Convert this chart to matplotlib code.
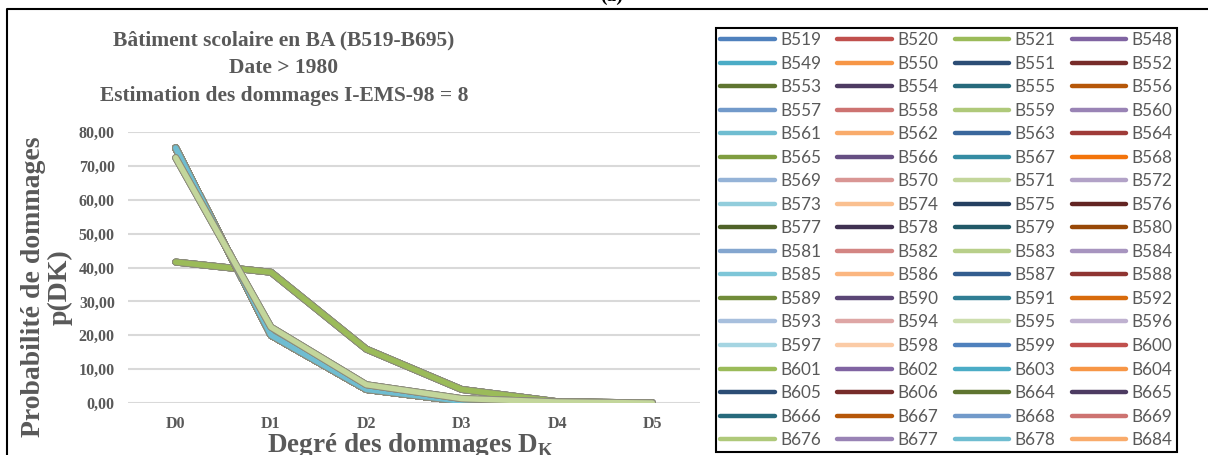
import matplotlib
matplotlib.use('Agg')
import matplotlib.pyplot as plt
import matplotlib.patheffects as pe
from matplotlib.lines import Line2D

# Data
degrees = ['D0', 'D1', 'D2', 'D3', 'D4', 'D5']
buildings = ['B519', 'B520', 'B521', 'B548', 'B549', 'B550', 'B551', 'B552',
             'B553', 'B554', 'B555', 'B556', 'B557', 'B558', 'B559', 'B560',
             'B561', 'B562', 'B563', 'B564', 'B565', 'B566', 'B567', 'B568',
             'B569', 'B570', 'B571', 'B572', 'B573', 'B574', 'B575', 'B576',
             'B577', 'B578', 'B579', 'B580', 'B581', 'B582', 'B583', 'B584',
             'B585', 'B586', 'B587', 'B588', 'B589', 'B590', 'B591', 'B592',
             'B593', 'B594', 'B595', 'B596', 'B597', 'B598', 'B599', 'B600',
             'B601', 'B602', 'B603', 'B604', 'B605', 'B606', 'B664', 'B665',
             'B666', 'B667', 'B668', 'B669', 'B676', 'B677', 'B678', 'B684']

# three damage distributions (%) shared by the buildings
p_type1 = [75.3, 20.0, 4.0, 0.5, 0.1, 0.0]
p_type2 = [72.4, 22.4, 5.4, 1.3, 0.3, 0.0]
p_type3 = [41.6, 38.6, 15.9, 4.0, 0.4, 0.0]
type2_buildings = ['B559', 'B571', 'B583', 'B595']
type3_buildings = ['B521', 'B553', 'B565', 'B577', 'B589', 'B601', 'B664']
# series that end up drawn on top of each group
front_buildings = ['B678', 'B571', 'B601']

# Excel-like palette, repeats every 54 series
palette = ['#4f81bd', '#c0504d', '#9bbb59', '#8064a2', '#4bacc6', '#f79646',
           '#2c4d75', '#772c2a', '#5f7530', '#4d3b62', '#276a7c', '#b65708',
           '#729aca', '#cd7371', '#afc97a', '#9983b5', '#6fbdd1', '#f9ab6b',
           '#3a679c', '#9f3b38', '#7f9d40', '#664f83', '#358ca3', '#f3740b',
           '#95b3d7', '#d99694', '#c3d69b', '#b2a2c7', '#92cddc', '#fac090',
           '#254061', '#632523', '#4f6228', '#403152', '#215968', '#984807',
           '#84a6cf', '#d38583', '#b8cf8a', '#a794bf', '#7ec6d8', '#fbb680',
           '#335d8f', '#8f3532', '#718c39', '#5b4676', '#307e94', '#d86b0c',
           '#a7bfdd', '#dea6a5', '#cddeae', '#bfb1d0', '#a5d5e2', '#fbcba6']

grey = '#595959'
serif = 'Liberation Serif'
plt.rcParams['mathtext.fontset'] = 'custom'
plt.rcParams['mathtext.rm'] = serif
plt.rcParams['mathtext.bf'] = serif + ':bold'

fig = plt.figure(figsize=(12.08, 4.55), dpi=100)
ax = fig.add_axes([128 / 1208, 1 - 403 / 455, 572 / 1208, 271 / 455])

x = list(range(len(degrees)))
handles = {}
for i, b in enumerate(buildings):
    col = palette[i % len(palette)]
    if b in type3_buildings:
        y, z = p_type3, 10
    elif b in type2_buildings:
        y, z = p_type2, 30
    else:
        y, z = p_type1, 20
    if b in front_buildings:
        z += 5
    ax.plot(x, y, color=col, lw=3.9, zorder=z, solid_capstyle='round',
            solid_joinstyle='round',
            path_effects=[pe.Stroke(linewidth=5.0, foreground='#8c8c7c'), pe.Normal()])
    handles[b] = Line2D([], [], color=col, lw=3.2, solid_capstyle='round')

ax.set_xlim(-0.5, 5.5)
ax.set_ylim(0, 80)
ax.set_yticks(range(0, 81, 10))
ax.set_yticklabels([f'{v:.2f}'.replace('.', ',') for v in range(0, 81, 10)])
ax.set_xticks(x)
ax.set_xticklabels(degrees)
ax.grid(axis='y', color='#d9d9d9', lw=1.5)
ax.set_axisbelow(True)
for s in ax.spines.values():
    s.set_visible(False)
ax.tick_params(length=0, labelsize=11.5, labelcolor=grey)
ax.tick_params(axis='y', pad=9.5)
ax.tick_params(axis='x', pad=9)
for lab in ax.get_xticklabels() + ax.get_yticklabels():
    lab.set_fontfamily(serif)
    lab.set_fontweight('bold')

fig.text(284 / 1208, 1 - 68 / 455,
         'Bâtiment scolaire en BA (B519-B695)\nDate > 1980\nEstimation des dommages I-EMS-98 = 8',
         ha='center', va='center', fontsize=15.5, fontweight='bold', color=grey,
         family=serif, linespacing=1.5)
fig.text(47 / 1208, 1 - 287 / 455, 'Probabilité de dommages\np(DK)',
         rotation=90, ha='center', va='center', fontsize=20, fontweight='bold',
         color=grey, family=serif, linespacing=1.1)
fig.text(411 / 1208, 1 - 452 / 455, r'Degré des dommages D$_\mathbf{K}$',
         ha='center', va='baseline', fontsize=19.5, fontweight='bold', color=grey,
         family=serif)
fig.text(612 / 1208, 1 - 5 / 455, '(a)', ha='center', va='bottom', fontsize=14,
         fontweight='bold', color='black', family=serif)

# outer frame (top and left)
fig.add_artist(Line2D([7 / 1208, 7 / 1208, 1.0], [0, 1 - 9 / 455, 1 - 9 / 455],
                      color='black', lw=1.5, transform=fig.transFigure))

# legend reads row by row, matplotlib fills column by column
ncol, nrow = 4, len(buildings) // 4
order = [buildings[r * ncol + c] for c in range(ncol) for r in range(nrow)]
leg = fig.legend([handles[b] for b in order], order, ncol=ncol, loc='upper left',
                 bbox_to_anchor=(716 / 1208, 1 - 28 / 455), borderaxespad=0,
                 prop={'family': 'Lato', 'size': 12.3}, labelcolor=grey,
                 handlelength=3.2, handletextpad=0.3, columnspacing=0.95,
                 labelspacing=0.44, borderpad=0.25, fancybox=False,
                 edgecolor='black', framealpha=1)
leg.get_frame().set_linewidth(1.5)

fig.savefig('out.png', dpi=100)
